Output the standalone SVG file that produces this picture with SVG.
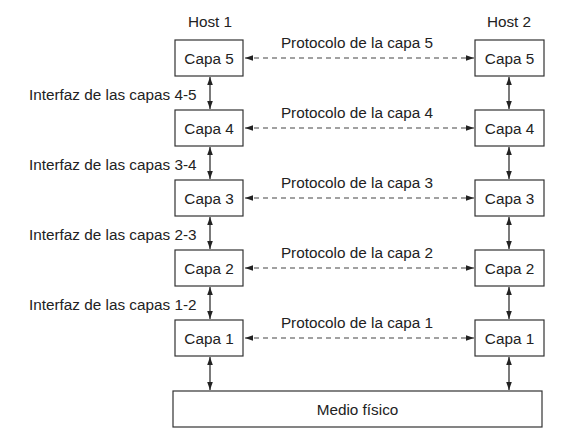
<svg xmlns="http://www.w3.org/2000/svg" width="566" height="446" viewBox="0 0 566 446">
<style>
text{font-family:"Liberation Sans",Arial,sans-serif;font-size:15.3px;fill:#222}
.box{fill:#fff;stroke:#333;stroke-width:1.2}
.v{stroke:#222;stroke-width:1.2;fill:none}
.d{stroke:#444;stroke-width:1.2;stroke-dasharray:5 4;fill:none}
</style>
<defs>
<marker id="ah" viewBox="0 0 10 10" refX="10" refY="5" markerWidth="8" markerHeight="8" markerUnits="userSpaceOnUse" orient="auto-start-reverse"><path d="M0,1.5 L10,5 L0,8.5 Z" fill="#222"/></marker>
</defs>
<rect width="566" height="446" fill="#fff"/>
<text x="210" y="27" text-anchor="middle">Host 1</text>
<text x="509" y="27" text-anchor="middle">Host 2</text>
<g id="connectors">
<line class="v" x1="210" y1="77" x2="210" y2="109" marker-start="url(#ah)" marker-end="url(#ah)"/>
<line class="v" x1="210" y1="147" x2="210" y2="179" marker-start="url(#ah)" marker-end="url(#ah)"/>
<line class="v" x1="210" y1="217" x2="210" y2="249" marker-start="url(#ah)" marker-end="url(#ah)"/>
<line class="v" x1="210" y1="287" x2="210" y2="319" marker-start="url(#ah)" marker-end="url(#ah)"/>
<line class="v" x1="210" y1="357" x2="210" y2="390" marker-start="url(#ah)" marker-end="url(#ah)"/>
<line class="v" x1="509" y1="77" x2="509" y2="109" marker-start="url(#ah)" marker-end="url(#ah)"/>
<line class="v" x1="509" y1="147" x2="509" y2="179" marker-start="url(#ah)" marker-end="url(#ah)"/>
<line class="v" x1="509" y1="217" x2="509" y2="249" marker-start="url(#ah)" marker-end="url(#ah)"/>
<line class="v" x1="509" y1="287" x2="509" y2="319" marker-start="url(#ah)" marker-end="url(#ah)"/>
<line class="v" x1="509" y1="357" x2="509" y2="390" marker-start="url(#ah)" marker-end="url(#ah)"/>
<line class="d" x1="245" y1="58" x2="474" y2="58" marker-start="url(#ah)" marker-end="url(#ah)"/>
<line class="d" x1="245" y1="128" x2="474" y2="128" marker-start="url(#ah)" marker-end="url(#ah)"/>
<line class="d" x1="245" y1="198" x2="474" y2="198" marker-start="url(#ah)" marker-end="url(#ah)"/>
<line class="d" x1="245" y1="268" x2="474" y2="268" marker-start="url(#ah)" marker-end="url(#ah)"/>
<line class="d" x1="245" y1="338" x2="474" y2="338" marker-start="url(#ah)" marker-end="url(#ah)"/>
</g>
<text x="357" y="48" text-anchor="middle">Protocolo de la capa 5</text>
<text x="357" y="118" text-anchor="middle">Protocolo de la capa 4</text>
<text x="357" y="188" text-anchor="middle">Protocolo de la capa 3</text>
<text x="357" y="258" text-anchor="middle">Protocolo de la capa 2</text>
<text x="357" y="328" text-anchor="middle">Protocolo de la capa 1</text>
<text x="29" y="100">Interfaz de las capas 4-5</text>
<text x="29" y="170">Interfaz de las capas 3-4</text>
<text x="29" y="240">Interfaz de las capas 2-3</text>
<text x="29" y="310">Interfaz de las capas 1-2</text>
<g id="h1c5"><rect class="box" x="175" y="40" width="68" height="36"/><text x="209" y="63.5" text-anchor="middle">Capa 5</text></g>
<g id="h1c4"><rect class="box" x="175" y="110" width="68" height="36"/><text x="209" y="133.5" text-anchor="middle">Capa 4</text></g>
<g id="h1c3"><rect class="box" x="175" y="180" width="68" height="36"/><text x="209" y="203.5" text-anchor="middle">Capa 3</text></g>
<g id="h1c2"><rect class="box" x="175" y="250" width="68" height="36"/><text x="209" y="273.5" text-anchor="middle">Capa 2</text></g>
<g id="h1c1"><rect class="box" x="175" y="320" width="68" height="36"/><text x="209" y="343.5" text-anchor="middle">Capa 1</text></g>
<g id="h2c5"><rect class="box" x="475" y="40" width="69" height="36"/><text x="509.5" y="63.5" text-anchor="middle">Capa 5</text></g>
<g id="h2c4"><rect class="box" x="475" y="110" width="69" height="36"/><text x="509.5" y="133.5" text-anchor="middle">Capa 4</text></g>
<g id="h2c3"><rect class="box" x="475" y="180" width="69" height="36"/><text x="509.5" y="203.5" text-anchor="middle">Capa 3</text></g>
<g id="h2c2"><rect class="box" x="475" y="250" width="69" height="36"/><text x="509.5" y="273.5" text-anchor="middle">Capa 2</text></g>
<g id="h2c1"><rect class="box" x="475" y="320" width="69" height="36"/><text x="509.5" y="343.5" text-anchor="middle">Capa 1</text></g>
<g id="medio"><rect class="box" x="173" y="391" width="369" height="36"/><text x="357.5" y="414.5" text-anchor="middle">Medio físico</text></g>
</svg>
